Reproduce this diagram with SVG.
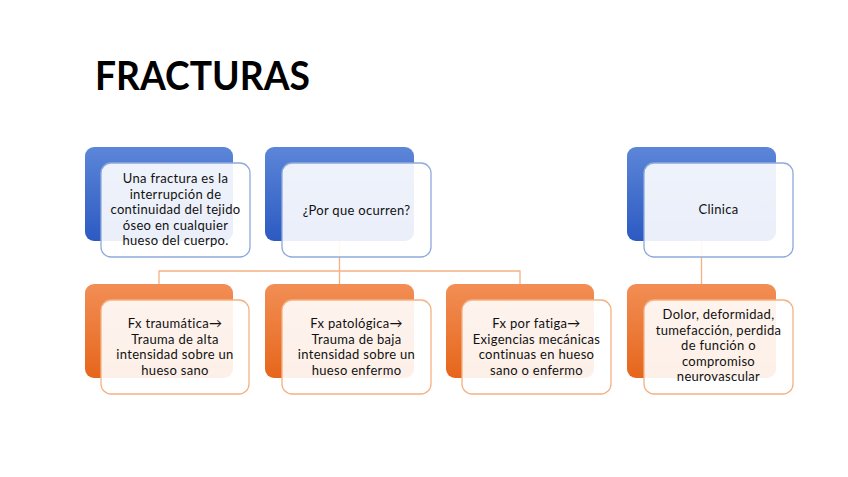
<svg xmlns="http://www.w3.org/2000/svg" width="848" height="477" viewBox="0 0 848 477">
<defs>
<linearGradient id="gb" x1="0" y1="0" x2="0" y2="1"><stop offset="0" stop-color="#5B86D8"/><stop offset="1" stop-color="#2C5AC2"/></linearGradient>
<linearGradient id="go" x1="0" y1="0" x2="0" y2="1"><stop offset="0" stop-color="#F28E55"/><stop offset="1" stop-color="#E6661B"/></linearGradient>
</defs>
<style>
.bb{fill:url(#gb)}
.bo{fill:url(#go)}
.fb{fill:#fff;fill-opacity:0.9;stroke:#8FAADC;stroke-width:1.3}
.fo{fill:#fff;fill-opacity:0.9;stroke:#F4B183;stroke-width:1.3}
.t{font-family:Lato,"Liberation Sans",sans-serif;font-size:13px;letter-spacing:0.3px;fill:#111;text-anchor:middle}
.c{fill:none;stroke:#F4B183;stroke-width:1.3}
</style>
<rect width="848" height="477" fill="#fff"/>
<text x="95" y="90" font-family="Lato,'Liberation Sans',sans-serif" font-weight="bold" font-size="41" fill="#000" textLength="215" lengthAdjust="spacingAndGlyphs">FRACTURAS</text>
<g id="connectors">
<path class="c" d="M339.5 241V271M159 284V271H520V284M339.5 271V284"/>
<path class="c" d="M701.5 241V284"/>
</g>
<g id="n1">
<rect class="bb" x="85" y="147" width="148" height="94" rx="9"/>
<rect class="fb" x="101" y="163" width="149" height="94" rx="10"/>
<text class="t"><tspan x="175.5" y="183">Una fractura es la</tspan><tspan x="175.5" y="198.5">interrupción de</tspan><tspan x="175.5" y="214">continuidad del tejido</tspan><tspan x="175.5" y="229.5">óseo en cualquier</tspan><tspan x="175.5" y="245">hueso del cuerpo.</tspan></text>
</g>
<g id="n2">
<rect class="bb" x="265" y="147" width="149" height="94" rx="9"/>
<rect class="fb" x="282" y="163" width="149" height="94" rx="10"/>
<text class="t" x="356.5" y="215">¿Por que ocurren?</text>
</g>
<g id="n3">
<rect class="bb" x="627" y="147" width="149" height="94" rx="9"/>
<rect class="fb" x="644" y="163" width="149" height="94" rx="10"/>
<text class="t" x="718.5" y="214">Clinica</text>
</g>
<g id="n4">
<rect class="bo" x="85" y="284" width="148" height="94" rx="9"/>
<rect class="fo" x="101" y="300" width="148" height="94" rx="10"/>
<text class="t"><tspan x="175" y="328">Fx traumática→</tspan><tspan x="175" y="343.5">Trauma de alta</tspan><tspan x="175" y="359">intensidad sobre un</tspan><tspan x="175" y="374.5">hueso sano</tspan></text>
</g>
<g id="n5">
<rect class="bo" x="265" y="284" width="149" height="94" rx="9"/>
<rect class="fo" x="282" y="300" width="149" height="94" rx="10"/>
<text class="t"><tspan x="356.5" y="328">Fx patológica→</tspan><tspan x="356.5" y="343.5">Trauma de baja</tspan><tspan x="356.5" y="359">intensidad sobre un</tspan><tspan x="356.5" y="374.5">hueso enfermo</tspan></text>
</g>
<g id="n6">
<rect class="bo" x="446" y="284" width="148" height="94" rx="9"/>
<rect class="fo" x="462" y="300" width="149" height="94" rx="10"/>
<text class="t"><tspan x="536.5" y="328">Fx por fatiga→</tspan><tspan x="536.5" y="343.5">Exigencias mecánicas</tspan><tspan x="536.5" y="359">continuas en hueso</tspan><tspan x="536.5" y="374.5">sano o enfermo</tspan></text>
</g>
<g id="n7">
<rect class="bo" x="627" y="284" width="149" height="94" rx="9"/>
<rect class="fo" x="644" y="300" width="149" height="94" rx="10"/>
<text class="t"><tspan x="718.5" y="319">Dolor, deformidad,</tspan><tspan x="718.5" y="334.5">tumefacción, perdida</tspan><tspan x="718.5" y="350">de función o</tspan><tspan x="718.5" y="365.5">compromiso</tspan><tspan x="718.5" y="381">neurovascular</tspan></text>
</g>
</svg>
